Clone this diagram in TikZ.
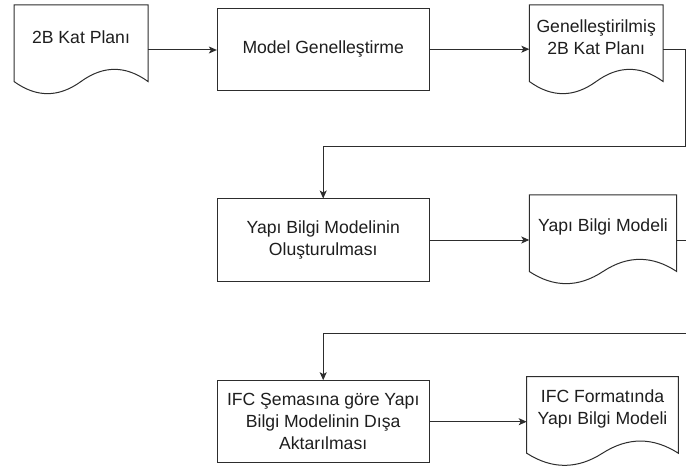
\documentclass[tikz,border=0pt]{standalone}
\usepackage{fontspec}
\setmainfont{Liberation Sans}
\usetikzlibrary{calc,arrows.meta}
\definecolor{stroke}{RGB}{45,45,45}
\definecolor{ink}{RGB}{30,30,30}
\newcommand\drawdoc[3]{%
 \draw[outline] (#1.north west) -- (#1.north east)
  -- ($(#1.north west)+({#2},{0.85*#3})$)
  .. controls ($(#1.north west)+({0.8333*#2},{0.67*#3})$) and ($(#1.north west)+({0.6667*#2},{0.67*#3})$) .. ($(#1.north west)+({0.5*#2},{0.85*#3})$)
  .. controls ($(#1.north west)+({0.3333*#2},{1.03*#3})$) and ($(#1.north west)+({0.1667*#2},{1.03*#3})$) .. ($(#1.north west)+(0,{0.85*#3})$)
  -- cycle;}
\begin{document}
\begin{tikzpicture}[x=1pt,y=-1pt,
  txt/.style={font=\fontsize{17.6}{22}\selectfont, text=ink, align=center},
  box/.style={txt, draw=stroke, line width=1pt, fill=white, minimum width=211.7pt, minimum height=82pt, inner sep=0pt},
  docframe/.style={draw=none, inner sep=0pt, outer sep=0pt},
  doctext/.style={txt, inner sep=0pt},
  outline/.style={draw=stroke, line width=1pt, fill=white},
  conn/.style={draw=stroke, line width=1pt, -{Stealth[length=8pt,width=7pt,inset=2pt]}}]
\useasboundingbox (0,0) rectangle (686,468);
\clip (0,0) rectangle (686,468);

% row 1
\node[docframe, minimum width=134pt, minimum height=90pt] (d1) at (81,50) {};
\drawdoc{d1}{134}{90}
\node[doctext] (t1) at ($(d1.north)+(0,32)$) {2B Kat Planı};
\node[box] (r1) at (323.2,49.2) {Model Genelleştirme};
\node[docframe, minimum width=133.7pt, minimum height=90pt] (d3) at (596.2,50) {};
\drawdoc{d3}{133.7}{90}
\node[doctext] (t3) at ($(d3.north)+(0,32)$) {Genelleştirilmiş\\2B Kat Planı};

% row 2
\node[box] (r2) at (323.2,240) {Yapı Bilgi Modelinin\\Oluşturulması};
\node[docframe, minimum width=147.4pt, minimum height=90pt] (d2) at (603,240) {};
\drawdoc{d2}{147.4}{90}
\node[doctext] (t2) at ($(d2.north)+(0,32)$) {Yapı Bilgi Modeli};

% row 3
\node[box] (r3) at (323.2,421.7) {IFC Şemasına göre Yapı\\Bilgi Modelinin Dışa\\Aktarılması};
\node[docframe, minimum width=151.6pt, minimum height=90pt] (d4) at (602.5,421.7) {};
\drawdoc{d4}{151.6}{90}
\node[doctext] (t4) at ($(d4.north)+(0,32)$) {IFC Formatında\\Yapı Bilgi Modeli};

% connectors
\coordinate (k1) at (685,146.7);
\coordinate (k2) at (700,333.3);
\draw[conn] (d1.east) -- (d1.east -| r1.west);
\draw[conn] (r1.east) -- (r1.east -| d3.west);
\draw[conn] (d3.east) -| (k1) -| (r2.north);
\draw[conn] (r2.east) -- (r2.east -| d2.west);
\draw[conn] (d2.east) -| (k2) -| (r3.north);
\draw[conn] (r3.east) -- (r3.east -| d4.west);
\end{tikzpicture}
\end{document}
